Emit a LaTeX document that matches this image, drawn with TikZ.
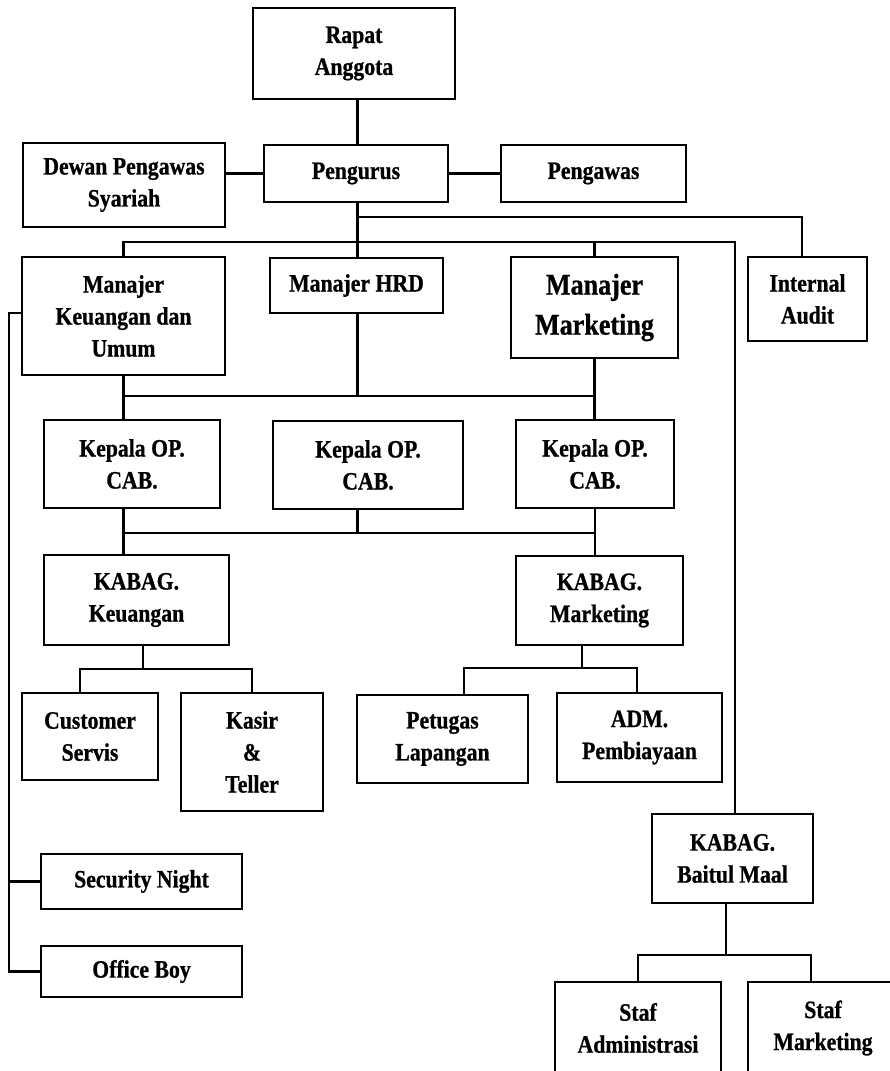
\documentclass[tikz,border=0pt]{standalone}
\usepackage{fontspec}
\setmainfont[FakeStretch=0.87,FakeBold=0.8]{Liberation Serif}
\usetikzlibrary{positioning}
\tikzset{unit box/.style={
	draw,
	rectangle,
	line width=2.2pt,
	inner sep=0pt,
	align=center,
	font=\fontsize{25}{32}\selectfont\bfseries,
}}
\tikzset{dims/.style 2 args={
	minimum width=#1pt,
	minimum height=#2pt,
}}
\tikzset{big text/.style={
	font=\fontsize{30}{40}\selectfont\bfseries,
}}
\tikzset{link/.style={
	line width=2.2pt,
}}

\begin{document}
\begin{tikzpicture}[x=1pt,y=-1pt,every node/.style={unit box}]

\useasboundingbox (0,0) rectangle (890,1071);

\node[dims={202}{91}](rapat) 		at (354,53.5) {Rapat\\Anggota};
\node[dims={202}{84}](dewan) 		at (124,185) {Dewan Pengawas\\Syariah};
\node[dims={184}{57}](pengurus) 	at (356,173.5) {Pengurus};
\node[dims={185}{57}](pengawas) 	at (593.5,173.5) {Pengawas};

\node[dims={203}{118}](mkeu) 		at (123.5,316) {Manajer\\Keuangan dan\\Umum};
\node[dims={173}{55}](mhrd) 		at (356.5,285.5) {Manajer HRD};
\node[dims={167}{101},big text](mmkt) at (594.5,307.5) {Manajer\\Marketing};
\node[dims={119}{84}](audit) 		at (807.5,299) {Internal\\Audit};

\node[dims={176}{88}](kop1) 		at (132,464) {Kepala OP.\\CAB.};
\node[dims={190}{88}](kop2) 		at (368,465) {Kepala OP.\\CAB.};
\node[dims={158}{88}](kop3) 		at (595,464) {Kepala OP.\\CAB.};

\node[dims={185}{90}](kkeu) 		at (136.5,600) {KABAG.\\Keuangan};
\node[dims={167}{89}](kmkt) 		at (599.5,600.5) {KABAG.\\Marketing};

\node[dims={136}{87}](cs) 			at (90,736.5) {Customer\\Servis};
\node[dims={142}{118}](kasir) 		at (252,752) {Kasir\\\&\\Teller};
\node[dims={171}{88}](petugas) 		at (442.5,739) {Petugas\\Lapangan};
\node[dims={165}{89}](adm) 			at (639.5,737.5) {ADM.\\Pembiayaan};

\node[dims={201}{55}](security) 	at (141.5,881.5) {Security Night};
\node[dims={201}{51}](office) 		at (141.5,971.5) {Office Boy};

\node[dims={161}{89}](kbm) 			at (732.5,858.5) {KABAG.\\Baitul Maal};
\node[dims={166}{92}](stafadm) 		at (638,1028) {Staf\\Administrasi};
\node[dims={150}{92}](stafmkt) 		at (823,1028) {Staf\\Marketing};

\coordinate (jAudit) at (357.5,217);
\coordinate (jTop) at (357.5,242);
\coordinate (jLeft) at (9,313);
\coordinate (jMid) at (357.5,396);
\coordinate (jLow) at (357.5,533);
\coordinate (jKeu) at (143,669);
\coordinate (jMkt) at (582,668);
\coordinate (jMaal) at (726,955);

% rapat -> pengurus
\draw[link] (rapat.south -| jTop) -- (pengurus.north -| jTop);

% dewan - pengurus - pengawas
\draw[link] (dewan.east |- pengurus.west) -- (pengurus.west);
\draw[link] (pengurus.east) -- (pengawas.west);

% pengurus -> managers
\draw[link] (pengurus.south -| jTop) -- (mhrd.north -| jTop);
\draw[link] (jAudit) -| ([xshift=-5.5pt]audit.north);
\draw[link] (mkeu.north) |- (jTop) -| ([xshift=2.5pt]kbm.north);
\draw[link] (jTop -| mmkt.north) -- (mmkt.north);

% keuangan dan umum -> security, office boy
\draw[link] ([yshift=3pt]mkeu.west) -| (jLeft) |- (office.west);
\draw[link] (security.west) -- (security.west -| jLeft);

% managers -> kepala OP
\draw[link] (mkeu.south) |- (jMid) -| (mmkt.south);
\draw[link] (mhrd.south -| jMid) -- (jMid);
\draw[link] (mkeu.south |- jMid) -- (mkeu.south |- kop1.north);
\draw[link] (mmkt.south |- jMid) -- (mmkt.south |- kop3.north);

% kepala OP -> KABAG
\draw[link] (mkeu.south |- kop1.south) |- (jLow) -| (kop3.south);
\draw[link] (jLow |- kop2.south) -- (jLow);
\draw[link] (mkeu.south |- jLow) -- (mkeu.south |- kkeu.north);
\draw[link] (kop3.south |- jLow) -- (kop3.south |- kmkt.north);

% KABAG keuangan -> cs, kasir
\draw[link] (jKeu |- kkeu.south) -- (jKeu);
\draw[link] ([xshift=-10pt]cs.north) |- (jKeu) -| (kasir.north);

% KABAG marketing -> petugas, adm
\draw[link] (jMkt |- kmkt.south) -- (jMkt);
\draw[link] ([xshift=21.5pt]petugas.north) |- (jMkt) -| ([xshift=-2.5pt]adm.north);

% baitul maal -> staf
\draw[link] (jMaal |- kbm.south) -- (jMaal);
\draw[link] (stafadm.north) |- (jMaal) -| ([xshift=-12pt]stafmkt.north);

\end{tikzpicture}
\end{document}
